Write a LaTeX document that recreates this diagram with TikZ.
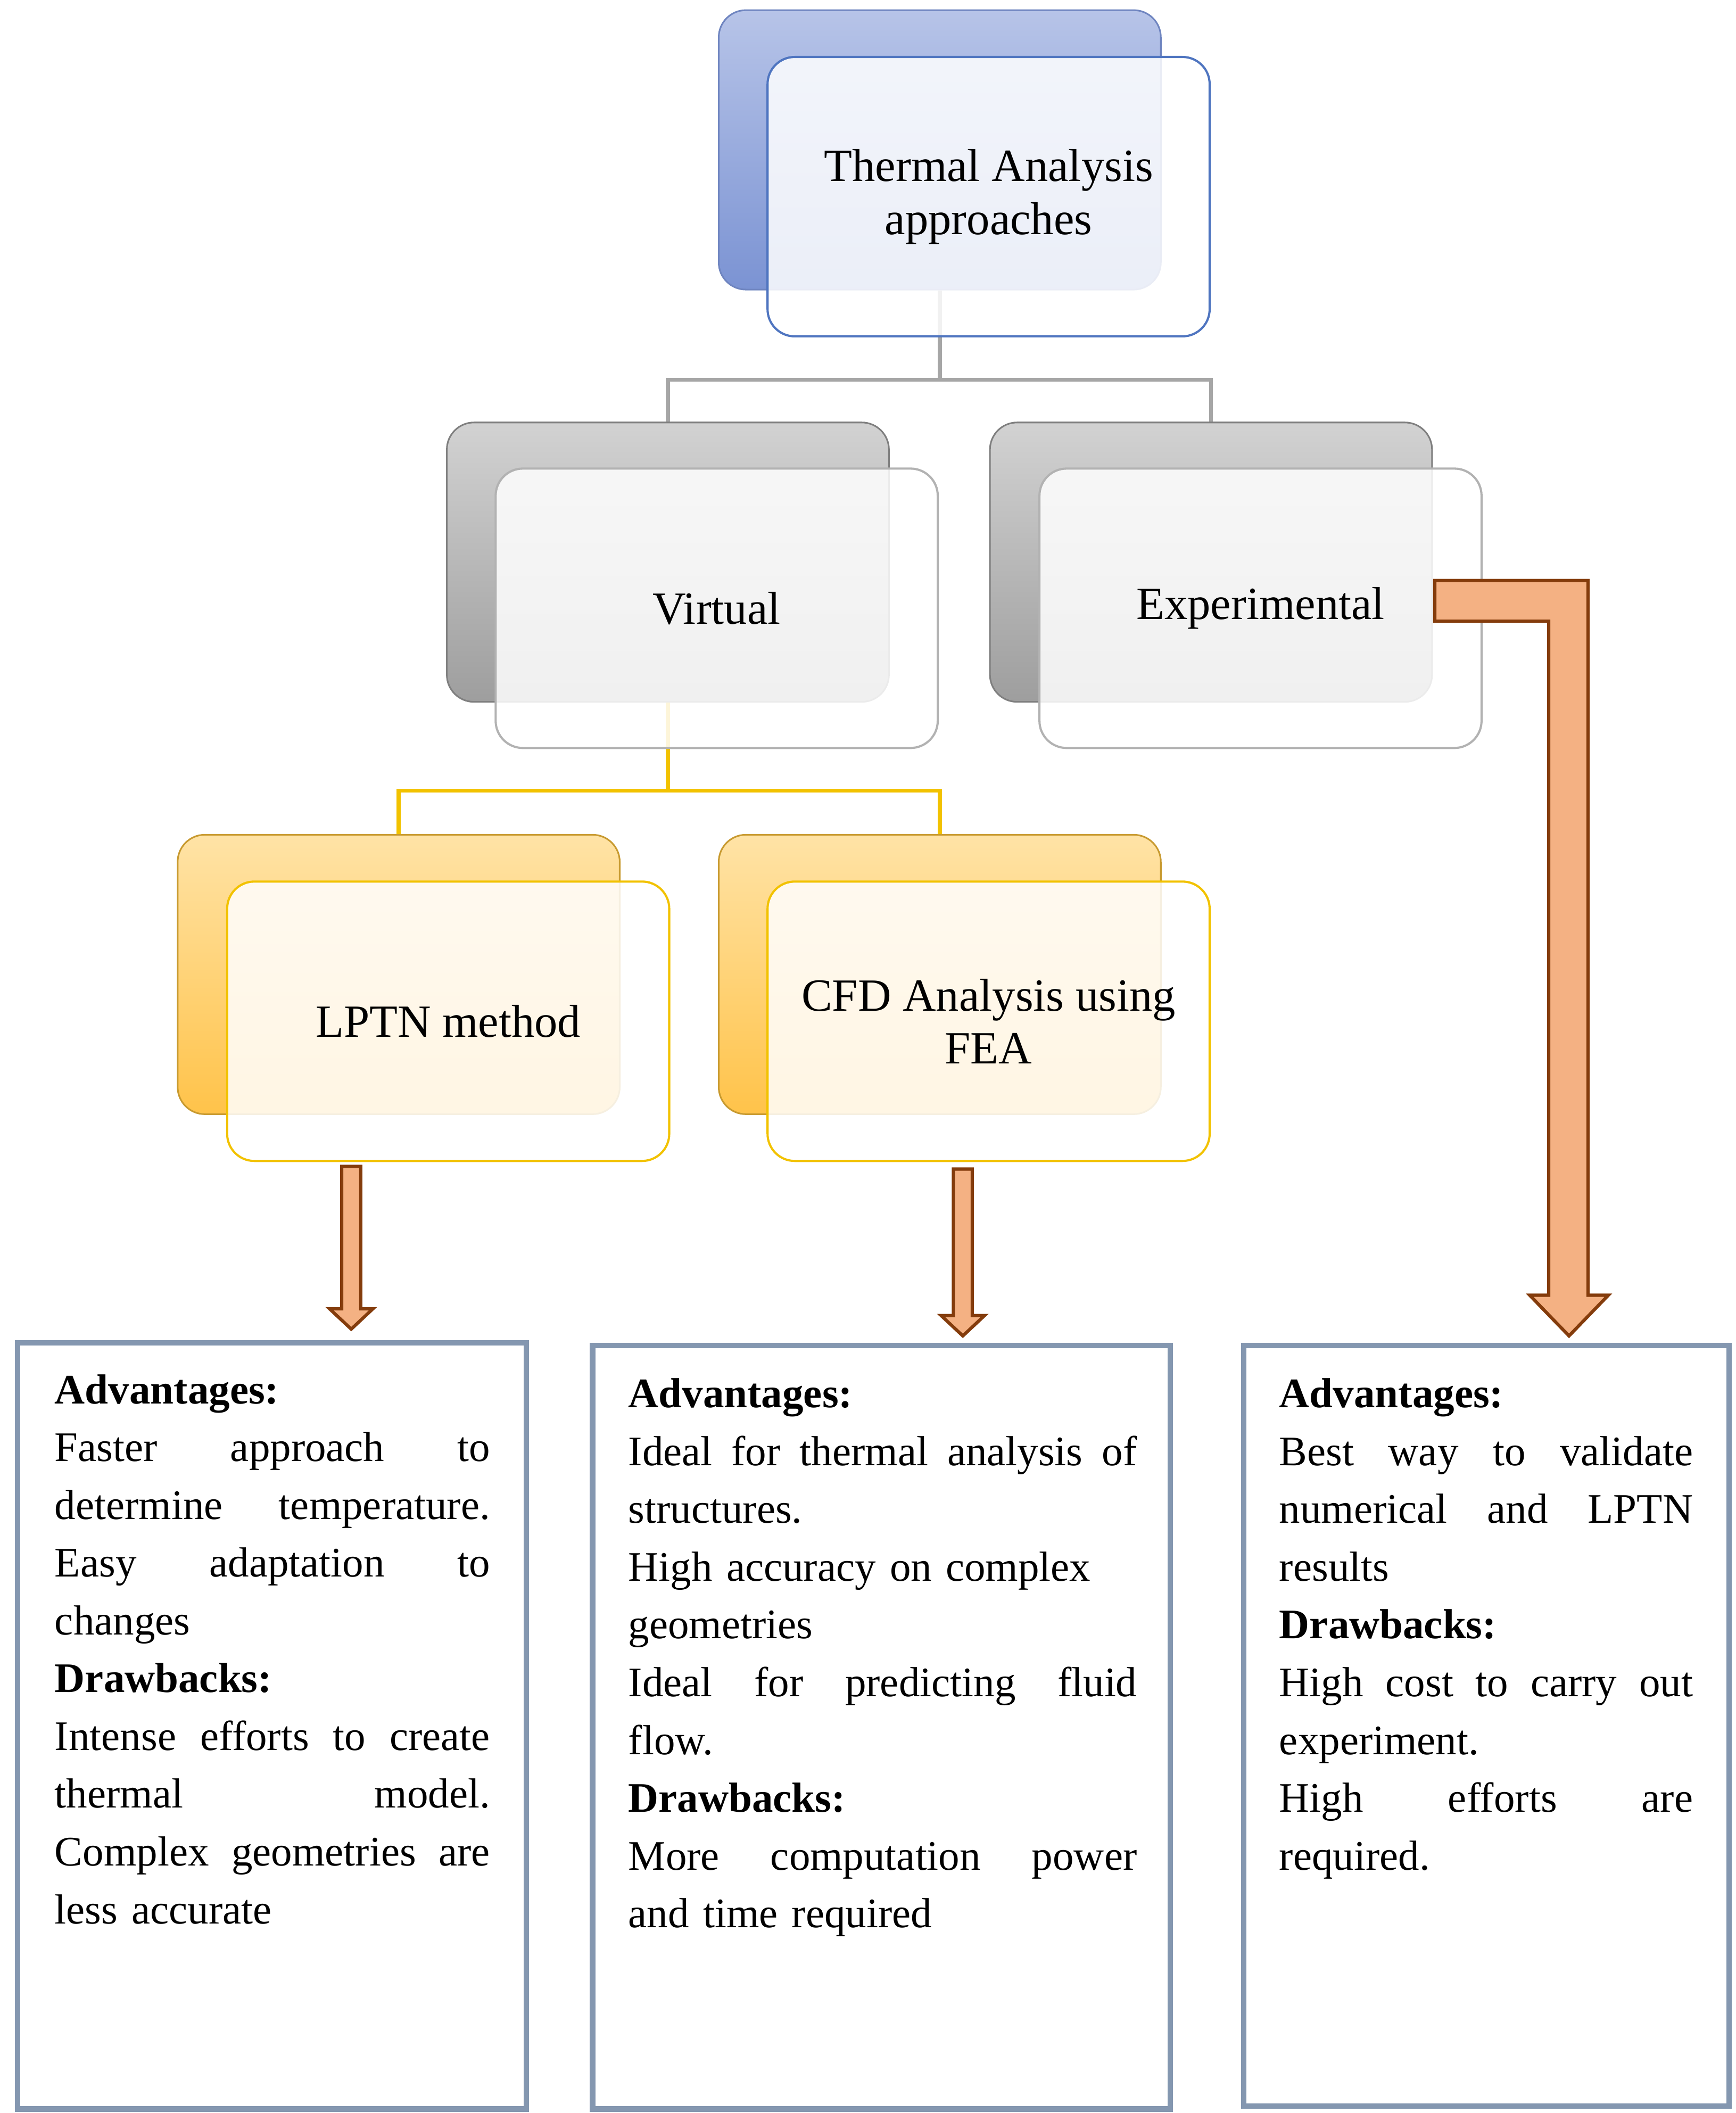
\documentclass[tikz,border=0pt]{standalone}
\usepackage{fontspec}
\setmainfont{Liberation Serif}
\definecolor{bluedk}{HTML}{7B93D3}\definecolor{bluelt}{HTML}{B7C4E8}\definecolor{bluebd}{HTML}{6F85C0}
\definecolor{blueln}{HTML}{4F75C0}
\definecolor{graydk}{HTML}{9E9E9E}\definecolor{graylt}{HTML}{D2D2D2}\definecolor{graybd}{HTML}{7F7F7F}
\definecolor{yeldk}{HTML}{FFC34A}\definecolor{yellt}{HTML}{FFE3A6}\definecolor{yelbd}{HTML}{C89A30}
\definecolor{yelln}{HTML}{F2C200}
\definecolor{arrfill}{HTML}{F4B183}\definecolor{arrln}{HTML}{843C0C}
\definecolor{boxln}{HTML}{8497B0}
\tikzset{
 back/.style={rounded corners=10pt,minimum width=163pt,minimum height=103pt,draw=#1bd,line width=0.6pt,top color=#1lt,bottom color=#1dk,inner sep=0pt},
 front/.style={rounded corners=10pt,minimum width=163pt,minimum height=103pt,draw=#1,line width=0.8pt,fill=white,fill opacity=0.85,text opacity=1,align=center,font=\fontsize{17}{19.5}\selectfont,inner sep=0pt},
 arr/.style={fill=arrfill,draw=arrln,line width=1.2pt,line join=miter},
 res/.style={draw=boxln,line width=2pt},
 txt/.style={anchor=north west,inner sep=0pt,align=left,font=\fontsize{15.5}{21.3}\selectfont}
}
\begin{document}
\begin{tikzpicture}[x=0.5pt,y=-0.5pt]
\useasboundingbox (0,0) rectangle (1280,1558);
% back boxes
\node[back=blue] (topb) at (693,110.5) {};
\node[back=gray] (virb) at (492.5,414.5) {};
\node[back=gray] (expb) at (893,414.5) {};
\node[back=yel] (lptb) at (294,718.5) {};
\node[back=yel] (cfdb) at (693,718.5) {};
% connectors
\draw[gray!70,line width=1.5pt] (topb.south) -- (693,280) -| (virb.north);
\draw[gray!70,line width=1.5pt] (693,280) -| (expb.north);
\draw[yelln,line width=1.5pt] (virb.south) -- (492.5,583) -| (lptb.north);
\draw[yelln,line width=1.5pt] (492.5,583) -| (cfdb.north);
% front boxes
\node[front=blueln] (top) at (729,145) {Thermal Analysis\\approaches};
\node[front=gray!60] (vir) at (528.5,448.5) {Virtual};
\node[front=gray!60] (exp) at (929.5,448.5) {Experimental};
\node[front=yelln] (lpt) at (330.5,753) {LPTN method};
\node[front=yelln] (cfd) at (729,753) {CFD Analysis using\\FEA};
% arrows
\draw[arr] (252,860) -- (266,860) -- (266,965) -- (275,965) -- (259,980) -- (243,965) -- (252,965) -- cycle;
\draw[arr] (703,862) -- (717,862) -- (717,970) -- (726,970) -- (710,985) -- (694,970) -- (703,970) -- cycle;
\draw[arr] (1058,428) -- (1171,428) -- (1171,955) -- (1186,955) -- (1157,985) -- (1128,955) -- (1142,955) -- (1142,458) -- (1058,458) -- cycle;
% result boxes
\draw[res] (13,990) rectangle (388,1555);
\draw[res] (437,992) rectangle (863,1555);
\draw[res] (917,992) rectangle (1275,1553);
\node[txt,text width=160.5pt] (t1) at (40,1013) {\textbf{Advantages:}\\
Faster\hfill approach\hfill to\\
determine\hfill temperature.\\
Easy\hfill adaptation\hfill to\\
changes\\
\textbf{Drawbacks:}\\
Intense\hfill efforts\hfill to\hfill create\\
thermal\hfill model.\\
Complex\hfill geometries\hfill are\\
less accurate};
\node[txt,text width=187.5pt] (t2) at (463,1016) {\textbf{Advantages:}\\
Ideal\hfill for\hfill thermal\hfill analysis\hfill of\\
structures.\\
High accuracy on complex\\
geometries\\
Ideal\hfill for\hfill predicting\hfill fluid\\
flow.\\
\textbf{Drawbacks:}\\
More\hfill computation\hfill power\\
and time required};
\node[txt,text width=152.5pt] (t3) at (943,1016) {\textbf{Advantages:}\\
Best\hfill way\hfill to\hfill validate\\
numerical\hfill and\hfill LPTN\\
results\\
\textbf{Drawbacks:}\\
High\hfill cost\hfill to\hfill carry\hfill out\\
experiment.\\
High\hfill efforts\hfill are\\
required.};
\end{tikzpicture}
\end{document}
